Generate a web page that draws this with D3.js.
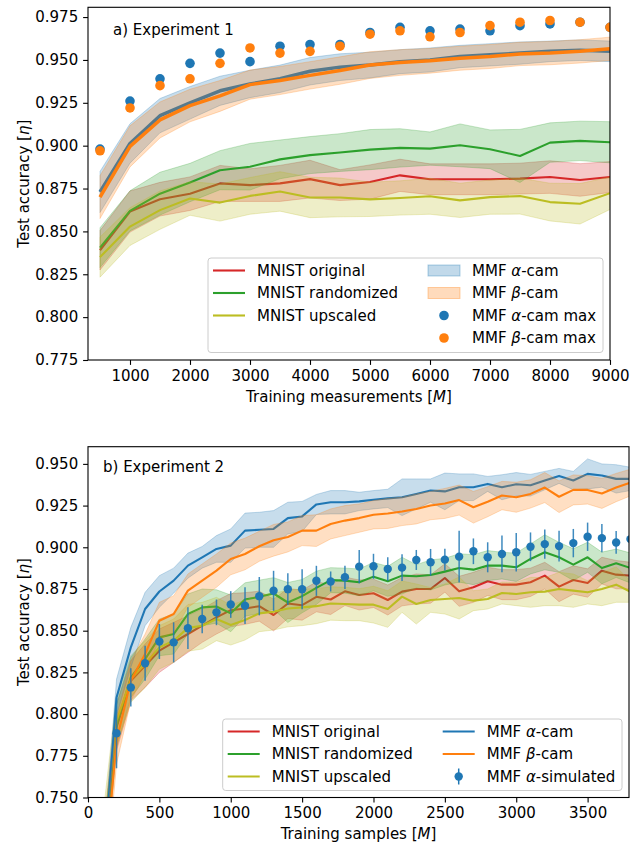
<!DOCTYPE html>
<html>
<head>
<meta charset="utf-8">
<script src="https://cdn.jsdelivr.net/npm/d3@7"></script>
<style>
  body { margin: 0; background: #fff; }
  svg text { font-family: "DejaVu Sans", sans-serif; font-size: 15px; fill: #000; }
</style>
</head>
<body>
<svg id="chart" width="642" height="846"></svg>
<script>
// ---- Experiment 1 (top panel) ----
const expOneSamples = [500, 1000, 1500, 2000, 2500, 3000, 3500, 4000, 4500, 5000, 5500, 6000, 6500, 7000, 7500, 8000, 8500, 9000];
const expOneOriginal = [0.839, 0.8616, 0.8688, 0.872, 0.878, 0.877, 0.878, 0.8805, 0.877, 0.8788, 0.8827, 0.8804, 0.8804, 0.8804, 0.8808, 0.8817, 0.880, 0.8817];
const expOneOriginalStd = [0.0115, 0.012, 0.0098, 0.0098, 0.0105, 0.0095, 0.0105, 0.011, 0.009, 0.010, 0.0094, 0.009, 0.009, 0.009, 0.009, 0.0095, 0.0095, 0.009];
const expOneRandomized = [0.8405, 0.862, 0.872, 0.8785, 0.8857, 0.8877, 0.892, 0.8945, 0.896, 0.8977, 0.8987, 0.8983, 0.9002, 0.8979, 0.894, 0.9018, 0.9028, 0.902];
const expOneRandomizedStd = [0.0116, 0.0117, 0.0125, 0.0112, 0.0114, 0.0136, 0.0113, 0.0108, 0.011, 0.0117, 0.0112, 0.0097, 0.0125, 0.0113, 0.0155, 0.0115, 0.0115, 0.012];
const expOneUpscaled = [0.835, 0.8528, 0.8624, 0.8692, 0.8668, 0.8707, 0.8733, 0.8698, 0.8698, 0.8687, 0.8695, 0.8705, 0.8681, 0.870, 0.8706, 0.8671, 0.8661, 0.8723];
const expOneUpscaledStd = [0.0117, 0.011, 0.0112, 0.0098, 0.0108, 0.0107, 0.0115, 0.0118, 0.0113, 0.010, 0.010, 0.0105, 0.010, 0.010, 0.0105, 0.011, 0.0118, 0.0095];
const expOneAlpha = [0.873, 0.9013, 0.9175, 0.925, 0.932, 0.936, 0.939, 0.9434, 0.9458, 0.947, 0.949, 0.950, 0.952, 0.953, 0.954, 0.955, 0.9557, 0.955];
const expOneAlphaStd = [0.012, 0.0115, 0.010, 0.0095, 0.0085, 0.008, 0.008, 0.008, 0.0078, 0.0075, 0.007, 0.007, 0.0065, 0.0065, 0.0065, 0.006, 0.006, 0.006];
const expOneBeta = [0.870, 0.8996, 0.915, 0.9234, 0.929, 0.9356, 0.938, 0.941, 0.9438, 0.947, 0.9485, 0.9495, 0.951, 0.952, 0.9535, 0.954, 0.955, 0.9565];
const expOneBetaStd = [0.0125, 0.012, 0.0105, 0.0095, 0.009, 0.0085, 0.0082, 0.008, 0.008, 0.0078, 0.0075, 0.0072, 0.007, 0.007, 0.0068, 0.0068, 0.0068, 0.0068];
const expOneAlphaMax = [0.898, 0.926, 0.939, 0.948, 0.954, 0.949, 0.958, 0.959, 0.959, 0.966, 0.969, 0.967, 0.968, 0.967, 0.970, 0.971, 0.972, 0.969];
const expOneBetaMax = [0.897, 0.922, 0.935, 0.939, 0.948, 0.957, 0.954, 0.955, 0.958, 0.965, 0.967, 0.9635, 0.966, 0.970, 0.972, 0.973, 0.972, 0.969];
const expOneXTicks = [1000, 2000, 3000, 4000, 5000, 6000, 7000, 8000, 9000];
const expOneYTicks = [0.775, 0.800, 0.825, 0.850, 0.875, 0.900, 0.925, 0.950, 0.975];

// ---- Experiment 2 (bottom panel) ----
const expTwoSamples = [100, 200, 300, 400, 500, 600, 700, 800, 900, 1000,
  1100, 1200, 1300, 1400, 1500, 1600, 1700, 1800, 1900, 2000,
  2100, 2200, 2300, 2400, 2500, 2600, 2700, 2800, 2900, 3000,
  3100, 3200, 3300, 3400, 3500, 3600, 3700, 3800];
const expTwoOriginal = [0.710, 0.792, 0.820, 0.829, 0.838, 0.843, 0.848, 0.853, 0.858, 0.8623,
  0.8633, 0.8647, 0.8594, 0.8663, 0.8653, 0.8703, 0.8687, 0.8736, 0.8714, 0.8724,
  0.8684, 0.8734, 0.875, 0.875, 0.8816, 0.8736, 0.876, 0.8796, 0.8776, 0.8776,
  0.879, 0.883, 0.8764, 0.8804, 0.8786, 0.886, 0.8836, 0.883];
const expTwoOriginalStd = [0.015, 0.014, 0.012, 0.013, 0.013, 0.012, 0.011, 0.010, 0.010, 0.010,
  0.0095, 0.009, 0.0095, 0.009, 0.009, 0.009, 0.009, 0.0085, 0.009, 0.0085,
  0.009, 0.0085, 0.009, 0.0085, 0.0085, 0.009, 0.009, 0.0085, 0.009, 0.009,
  0.0085, 0.008, 0.009, 0.0085, 0.0085, 0.008, 0.0085, 0.008];
const expTwoRandomized = [0.700, 0.793, 0.822, 0.833, 0.846, 0.848, 0.860, 0.864, 0.8645, 0.8604,
  0.8687, 0.8703, 0.8723, 0.8669, 0.8707, 0.8757, 0.8803, 0.880, 0.879, 0.8824,
  0.8796, 0.883, 0.8826, 0.8834, 0.8854, 0.8876, 0.8866, 0.889, 0.889, 0.888,
  0.893, 0.897, 0.894, 0.8896, 0.894, 0.8876, 0.8904, 0.8876];
const expTwoRandomizedStd = [0.014, 0.013, 0.012, 0.012, 0.011, 0.012, 0.012, 0.011, 0.010, 0.011,
  0.010, 0.010, 0.0095, 0.012, 0.010, 0.010, 0.0075, 0.0075, 0.008, 0.0085,
  0.009, 0.011, 0.007, 0.009, 0.008, 0.0085, 0.009, 0.009, 0.008, 0.0085,
  0.009, 0.0105, 0.009, 0.0095, 0.009, 0.0095, 0.0085, 0.009];
const expTwoUpscaled = [0.720, 0.796, 0.821, 0.830, 0.840, 0.844, 0.8517, 0.853, 0.857, 0.8534,
  0.8564, 0.8604, 0.8614, 0.8633, 0.864, 0.8647, 0.8663, 0.866, 0.8656, 0.8656,
  0.863, 0.8704, 0.866, 0.8684, 0.869, 0.8696, 0.868, 0.869, 0.8726, 0.872,
  0.873, 0.8734, 0.875, 0.874, 0.873, 0.875, 0.8776, 0.8734];
const expTwoUpscaledStd = [0.016, 0.015, 0.014, 0.014, 0.013, 0.013, 0.014, 0.014, 0.013, 0.012,
  0.012, 0.011, 0.011, 0.011, 0.011, 0.0105, 0.010, 0.010, 0.0096, 0.011,
  0.011, 0.0094, 0.012, 0.0074, 0.009, 0.0126, 0.006, 0.006, 0.0066, 0.007,
  0.009, 0.0084, 0.010, 0.010, 0.007, 0.010, 0.0106, 0.0064];
const expTwoAlpha = [0.700, 0.810, 0.840, 0.863, 0.8735, 0.880, 0.889, 0.894, 0.899, 0.901,
  0.910, 0.9105, 0.911, 0.9175, 0.9185, 0.9257, 0.927, 0.927, 0.9275, 0.9285,
  0.9293, 0.930, 0.932, 0.934, 0.9335, 0.936, 0.936, 0.938, 0.936, 0.9378,
  0.9372, 0.940, 0.9428, 0.940, 0.944, 0.943, 0.941, 0.941];
const expTwoAlphaStd = [0.012, 0.011, 0.012, 0.010, 0.0095, 0.0075, 0.0075, 0.0065, 0.008, 0.010,
  0.0105, 0.0105, 0.011, 0.0095, 0.009, 0.006, 0.007, 0.007, 0.0055, 0.0055,
  0.0055, 0.011, 0.009, 0.007, 0.011, 0.008, 0.008, 0.0045, 0.0075, 0.007,
  0.0065, 0.0055, 0.0045, 0.0055, 0.009, 0.007, 0.0085, 0.007];
const expTwoBeta = [0.690, 0.784, 0.820, 0.836, 0.856, 0.860, 0.874, 0.880, 0.886, 0.893,
  0.896, 0.9006, 0.9042, 0.9062, 0.910, 0.910, 0.914, 0.916, 0.9175, 0.9195,
  0.9203, 0.9215, 0.923, 0.925, 0.9263, 0.9283, 0.924, 0.9273, 0.931, 0.930,
  0.932, 0.9358, 0.9303, 0.9344, 0.9344, 0.9323, 0.9358, 0.9388];
const expTwoBetaStd = [0.015, 0.014, 0.012, 0.012, 0.011, 0.011, 0.010, 0.010, 0.010, 0.0095,
  0.0095, 0.009, 0.0095, 0.009, 0.009, 0.0095, 0.009, 0.009, 0.0085, 0.0085,
  0.009, 0.0085, 0.009, 0.0085, 0.009, 0.009, 0.0095, 0.009, 0.0085, 0.009,
  0.0085, 0.009, 0.0095, 0.009, 0.0085, 0.009, 0.0085, 0.008];
const expTwoSimSamples = [200, 300, 400, 500, 600, 700, 800, 900, 1000,
  1100, 1200, 1300, 1400, 1500, 1600, 1700, 1800, 1900, 2000,
  2100, 2200, 2300, 2400, 2500, 2600, 2700, 2800, 2900, 3000,
  3100, 3200, 3300, 3400, 3500, 3600, 3700, 3800];
const expTwoSimulated = [0.7885, 0.816, 0.8305, 0.8435, 0.843, 0.8515, 0.857, 0.861, 0.8657,
  0.865, 0.8707, 0.8739, 0.8749, 0.8749, 0.8799, 0.8795, 0.882, 0.8884, 0.8886,
  0.887, 0.8878, 0.8924, 0.891, 0.8926, 0.8944, 0.8976, 0.894, 0.896, 0.897,
  0.9003, 0.9019, 0.9007, 0.9025, 0.9063, 0.9055, 0.9029, 0.9049];
const expTwoSimulatedErr = [0.021, 0.0115, 0.0105, 0.0105, 0.012, 0.0125, 0.0085, 0.0077, 0.008,
  0.011, 0.0115, 0.012, 0.0095, 0.012, 0.009, 0.006, 0.007, 0.010, 0.0075,
  0.007, 0.008, 0.006, 0.008, 0.0065, 0.0155, 0.0077, 0.009, 0.011, 0.0115,
  0.0086, 0.0087, 0.0092, 0.0085, 0.0085, 0.0085, 0.0068, 0.005];
const expTwoXTicks = [0, 500, 1000, 1500, 2000, 2500, 3000, 3500];
const expTwoYTicks = [0.750, 0.775, 0.800, 0.825, 0.850, 0.875, 0.900, 0.925, 0.950];

const colors = {
  red: "#d62728",
  green: "#2ca02c",
  olive: "#bcbd22",
  blue: "#1f77b4",
  orange: "#ff7f0e",
};

const svg = d3.select("#chart");

// label strings: parts between $ signs are set in italic (math)
const addRichText = (sel, label) => {
  label.split("$").forEach((part, i) => {
    if (!part) return;
    sel.append("tspan").attr("font-style", i % 2 ? "italic" : null).text(part);
  });
  return sel;
};

const drawLegend = (g, box, entries) => {
  g.append("rect")
    .attr("x", box.x0)
    .attr("y", box.y0)
    .attr("width", box.x1 - box.x0)
    .attr("height", box.y1 - box.y0)
    .attr("rx", 3)
    .attr("fill", "#fff")
    .attr("fill-opacity", 0.8)
    .attr("stroke", "#cccccc")
    .attr("stroke-width", 1);

  entries.forEach((e) => {
    const hx = box.x0 + (e.col === 0 ? 5 : 220);
    const cy = box.y0 + 12.5 + e.row * 22.5;
    const item = g.append("g");
    if (e.kind === "line") {
      item.append("line")
        .attr("x1", hx).attr("x2", hx + 32)
        .attr("y1", cy).attr("y2", cy)
        .attr("stroke", e.color).attr("stroke-width", 2.1);
    } else if (e.kind === "patch") {
      item.append("rect")
        .attr("x", hx).attr("y", cy - 5.5)
        .attr("width", 32).attr("height", 11)
        .attr("fill", e.color).attr("fill-opacity", 0.28)
        .attr("stroke", e.color).attr("stroke-opacity", 0.35);
    } else if (e.kind === "dot") {
      item.append("circle")
        .attr("cx", hx + 16).attr("cy", cy).attr("r", 4.8)
        .attr("fill", e.color);
    } else if (e.kind === "errbar") {
      item.append("line")
        .attr("x1", hx + 16).attr("x2", hx + 16)
        .attr("y1", cy - 8).attr("y2", cy + 8)
        .attr("stroke", e.color).attr("stroke-width", 1.5);
      item.append("circle")
        .attr("cx", hx + 16).attr("cy", cy).attr("r", 4.2)
        .attr("fill", e.color);
    }
    addRichText(
      item.append("text").attr("x", hx + 44).attr("y", cy).attr("dy", "0.36em"),
      e.label
    );
  });
};

const drawPanel = (opt) => {
  const x = d3.scaleLinear().domain(opt.xDomain).range([opt.left, opt.right]);
  const y = d3.scaleLinear().domain(opt.yDomain).range([opt.bottom, opt.top]);

  const g = svg.append("g").attr("id", opt.id);

  g.append("clipPath")
    .attr("id", opt.id + "-clip")
    .append("rect")
    .attr("x", opt.left)
    .attr("y", opt.top)
    .attr("width", opt.right - opt.left)
    .attr("height", opt.bottom - opt.top);

  const plot = g.append("g").attr("clip-path", `url(#${opt.id}-clip)`);

  // bands + mean lines
  opt.series.forEach((s) => {
    const pts = opt.samples.map((m, i) => ({ m, v: s.mean[i], sd: s.std[i] }));
    const area = d3.area()
      .x((d) => x(d.m))
      .y0((d) => y(d.v - d.sd))
      .y1((d) => y(d.v + d.sd));
    const line = d3.line()
      .x((d) => x(d.m))
      .y((d) => y(d.v));

    plot.append("path")
      .datum(pts)
      .attr("d", area)
      .attr("fill", s.color)
      .attr("fill-opacity", 0.25)
      .attr("stroke", s.color)
      .attr("stroke-opacity", 0.25)
      .attr("stroke-width", 1);

    plot.append("path")
      .datum(pts)
      .attr("d", line)
      .attr("fill", "none")
      .attr("stroke", s.color)
      .attr("stroke-width", s.width)
      .attr("stroke-linejoin", "round");
  });

  // scatter of best runs
  (opt.dots || []).forEach((s) => {
    plot.append("g")
      .selectAll("circle")
      .data(opt.samples.map((m, i) => ({ m, v: s.values[i] })))
      .join("circle")
      .attr("cx", (d) => x(d.m))
      .attr("cy", (d) => y(d.v))
      .attr("r", 4.8)
      .attr("fill", s.color);
  });

  // error bars
  if (opt.errbar) {
    const eb = opt.errbar;
    const pts = eb.samples.map((m, i) => ({ m, v: eb.values[i], e: eb.err[i] }));
    const eg = plot.append("g");
    eg.selectAll("line")
      .data(pts)
      .join("line")
      .attr("x1", (d) => x(d.m))
      .attr("x2", (d) => x(d.m))
      .attr("y1", (d) => y(d.v - d.e))
      .attr("y2", (d) => y(d.v + d.e))
      .attr("stroke", eb.color)
      .attr("stroke-opacity", 0.85)
      .attr("stroke-width", 1.5);
    eg.selectAll("circle")
      .data(pts)
      .join("circle")
      .attr("cx", (d) => x(d.m))
      .attr("cy", (d) => y(d.v))
      .attr("r", 4.2)
      .attr("fill", eb.color);
  }

  // axes
  const xAxis = d3.axisBottom(x)
    .tickValues(opt.xTicks)
    .tickFormat(d3.format("d"))
    .tickSize(4.9)
    .tickSizeOuter(0)
    .tickPadding(5);
  const yAxis = d3.axisLeft(y)
    .tickValues(opt.yTicks)
    .tickFormat(d3.format(".3f"))
    .tickSize(4.9)
    .tickSizeOuter(0)
    .tickPadding(4.9);

  const gx = g.append("g")
    .attr("transform", `translate(0,${opt.bottom})`)
    .call(xAxis);
  const gy = g.append("g")
    .attr("transform", `translate(${opt.left},0)`)
    .call(yAxis);
  [gx, gy].forEach((a) => {
    a.attr("font-family", null).attr("font-size", null);
    a.select(".domain").remove();
    a.selectAll(".tick line").attr("stroke", "#000").attr("stroke-width", 1.1);
  });

  // frame
  g.append("rect")
    .attr("x", opt.left)
    .attr("y", opt.top)
    .attr("width", opt.right - opt.left)
    .attr("height", opt.bottom - opt.top)
    .attr("fill", "none")
    .attr("stroke", "#000")
    .attr("stroke-width", 1.1);

  // panel title and axis labels
  g.append("text").attr("x", opt.titleX).attr("y", opt.titleY).text(opt.title);

  addRichText(
    g.append("text")
      .attr("x", (opt.left + opt.right) / 2)
      .attr("y", opt.xLabelY)
      .attr("text-anchor", "middle"),
    opt.xLabel
  );
  addRichText(
    g.append("text")
      .attr("transform", `translate(29,${(opt.top + opt.bottom) / 2}) rotate(-90)`)
      .attr("text-anchor", "middle"),
    "Test accuracy [$η$]"
  );

  drawLegend(g, opt.legendBox, opt.legend);
};

drawPanel({
  id: "exp1",
  left: 88, right: 610, top: 7.3, bottom: 360,
  xDomain: [300, 9000],
  yDomain: [0.775, 0.9807],
  xTicks: expOneXTicks,
  yTicks: expOneYTicks,
  samples: expOneSamples,
  series: [
    { mean: expOneOriginal, std: expOneOriginalStd, color: colors.red, width: 2.1 },
    { mean: expOneRandomized, std: expOneRandomizedStd, color: colors.green, width: 2.1 },
    { mean: expOneUpscaled, std: expOneUpscaledStd, color: colors.olive, width: 2.1 },
    { mean: expOneAlpha, std: expOneAlphaStd, color: colors.blue, width: 3.5 },
    { mean: expOneBeta, std: expOneBetaStd, color: colors.orange, width: 3.5 },
  ],
  dots: [
    { values: expOneAlphaMax, color: colors.blue },
    { values: expOneBetaMax, color: colors.orange },
  ],
  title: "a) Experiment 1",
  titleX: 113, titleY: 34.5,
  xLabel: "Training measurements [$M$]",
  xLabelY: 401.5,
  legendBox: { x0: 208, x1: 603, y0: 258, y1: 352.5 },
  legend: [
    { col: 0, row: 0, kind: "line", color: colors.red, label: "MNIST original" },
    { col: 0, row: 1, kind: "line", color: colors.green, label: "MNIST randomized" },
    { col: 0, row: 2, kind: "line", color: colors.olive, label: "MNIST upscaled" },
    { col: 1, row: 0, kind: "patch", color: colors.blue, label: "MMF $α$-cam" },
    { col: 1, row: 1, kind: "patch", color: colors.orange, label: "MMF $β$-cam" },
    { col: 1, row: 2, kind: "dot", color: colors.blue, label: "MMF $α$-cam max" },
    { col: 1, row: 3, kind: "dot", color: colors.orange, label: "MMF $β$-cam max" },
  ],
});

drawPanel({
  id: "exp2",
  left: 88, right: 629, top: 446.7, bottom: 797.5,
  xDomain: [0, 3790],
  yDomain: [0.75, 0.9603],
  xTicks: expTwoXTicks,
  yTicks: expTwoYTicks,
  samples: expTwoSamples,
  series: [
    { mean: expTwoOriginal, std: expTwoOriginalStd, color: colors.red, width: 2.1 },
    { mean: expTwoRandomized, std: expTwoRandomizedStd, color: colors.green, width: 2.1 },
    { mean: expTwoUpscaled, std: expTwoUpscaledStd, color: colors.olive, width: 2.1 },
    { mean: expTwoAlpha, std: expTwoAlphaStd, color: colors.blue, width: 2.1 },
    { mean: expTwoBeta, std: expTwoBetaStd, color: colors.orange, width: 2.1 },
  ],
  errbar: {
    samples: expTwoSimSamples,
    values: expTwoSimulated,
    err: expTwoSimulatedErr,
    color: colors.blue,
  },
  title: "b) Experiment 2",
  titleX: 103, titleY: 472.3,
  xLabel: "Training samples [$M$]",
  xLabelY: 838.5,
  legendBox: { x0: 222.7, x1: 622, y0: 719, y1: 790.5 },
  legend: [
    { col: 0, row: 0, kind: "line", color: colors.red, label: "MNIST original" },
    { col: 0, row: 1, kind: "line", color: colors.green, label: "MNIST randomized" },
    { col: 0, row: 2, kind: "line", color: colors.olive, label: "MNIST upscaled" },
    { col: 1, row: 0, kind: "line", color: colors.blue, label: "MMF $α$-cam" },
    { col: 1, row: 1, kind: "line", color: colors.orange, label: "MMF $β$-cam" },
    { col: 1, row: 2, kind: "errbar", color: colors.blue, label: "MMF $α$-simulated" },
  ],
});
</script>
</body>
</html>
